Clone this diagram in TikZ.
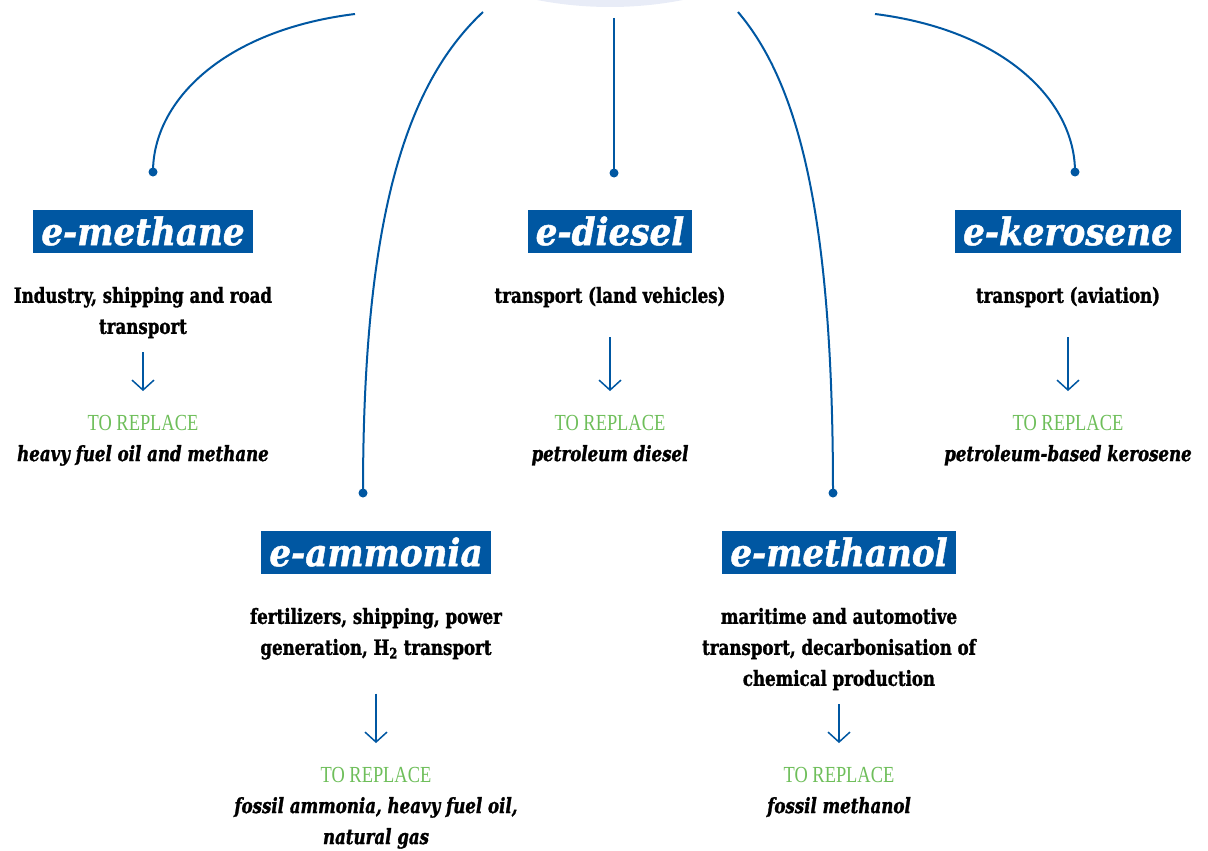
\documentclass[tikz,border=0pt]{standalone}
\usepackage{fontspec}
\usepackage{xcolor}
\usepackage{tikz}
\usetikzlibrary{arrows.meta,positioning}
\setmainfont{DejaVu Serif}
\newfontfamily\titlefont[BoldItalicFeatures={FakeBold=1.2}]{DejaVu Serif Condensed}
\newfontfamily\bodyfont[FakeStretch=0.88, BoldFeatures={FakeBold=1.3}, BoldItalicFeatures={FakeBold=1.3}]{DejaVu Serif Condensed}
\newfontfamily\replfont[FakeStretch=0.8]{Liberation Serif}
\definecolor{mainblue}{RGB}{0,87,162}
\definecolor{repgreen}{RGB}{110,190,90}
\definecolor{hubfill}{RGB}{232,236,247}

\begin{document}
\begin{tikzpicture}[
    x=1pt, y=-1pt,
    node distance=32pt,
    title/.style={fill=mainblue, text=white, font=\titlefont\bfseries\itshape\fontsize{38}{42}\selectfont, inner xsep=8pt, inner ysep=0pt, minimum height=43pt},
    usage/.style={font=\bodyfont\bfseries\fontsize{21}{31}\selectfont, align=center, inner sep=2pt},
    toreplace/.style={font=\replfont\fontsize{23}{28}\selectfont, text=repgreen, inner sep=2pt},
    fossil/.style={font=\bodyfont\bfseries\itshape\fontsize{21}{31}\selectfont, align=center, inner sep=2pt},
    pin/.style={circle, fill=mainblue, inner sep=0pt, minimum size=9pt},
    link/.style={draw=mainblue, line width=2pt},
    flow/.style={-{Straight Barb[length=10pt,width=22pt]}, draw=mainblue, line width=1.5pt, shorten >=22pt}
]
\useasboundingbox (0,0) rectangle (1208,851);
\begin{scope}
  \clip (0,0) rectangle (1208,851);
  \fill[hubfill] (610,-373) circle (380);
\end{scope}
\coordinate (hubA) at (355,14);
\coordinate (hubB) at (483,12);
\coordinate (hubC) at (614,18);
\coordinate (hubD) at (738,12);
\coordinate (hubE) at (875,14);

% top row
\node[title] (meth) at (143,231) {e-methane};
\node[usage, below=of meth] (methuse) {Industry, shipping and road\\transport};
\node[toreplace] (methrep) at (143,423) {TO REPLACE};
\node[fossil, below=10pt of methrep] (methfos) {heavy fuel oil and methane};
\node[pin] (methpin) at (153,172) {};

\node[title] (dies) at (610,231) {e-diesel};
\node[usage, below=of dies] (diesuse) {transport (land vehicles)};
\node[toreplace] (diesrep) at (610,423) {TO REPLACE};
\node[fossil, below=10pt of diesrep] (diesfos) {petroleum diesel};
\node[pin] (diespin) at (614,173) {};

\node[title] (kero) at (1068,231) {e-kerosene};
\node[usage, below=of kero] (kerouse) {transport (aviation)};
\node[toreplace] (kerorep) at (1068,423) {TO REPLACE};
\node[fossil, below=10pt of kerorep] (kerofos) {petroleum-based kerosene};
\node[pin] (keropin) at (1075,172) {};

% bottom row
\node[title] (ammo) at (376,552) {e-ammonia};
\node[usage, below=of ammo] (ammouse) {fertilizers, shipping, power\\generation, H\textsubscript{2} transport};
\node[toreplace] (ammorep) at (376,775) {TO REPLACE};
\node[fossil, below=10pt of ammorep] (ammofos) {fossil ammonia, heavy fuel oil,\\natural gas};
\node[pin] (ammopin) at (363,493) {};

\node[title] (mol) at (839,552) {e-methanol};
\node[usage, below=of mol] (moluse) {maritime and automotive\\transport, decarbonisation of\\chemical production};
\node[toreplace] (molrep) at (839,775) {TO REPLACE};
\node[fossil, below=10pt of molrep] (molfos) {fossil methanol};
\node[pin] (molpin) at (833,493) {};

% connectors from the hub
\draw[link] (hubA) .. controls (225,30) and (153,100) .. (methpin.center);
\draw[link] (hubB) .. controls (405,85) and (363,220) .. (ammopin.center);
\draw[link] (hubC) -- (diespin.center);
\draw[link] (hubD) .. controls (800,85) and (833,220) .. (molpin.center);
\draw[link] (hubE) .. controls (1003,30) and (1075,100) .. (keropin.center);

\draw[flow, shorten <=12pt] (methuse) -- (methrep);
\draw[flow, shorten <=28pt] (diesuse) -- (diesrep);
\draw[flow, shorten <=28pt] (kerouse) -- (kerorep);
\draw[flow, shorten <=32pt] (ammouse) -- (ammorep);
\draw[flow, shorten <=12pt] (moluse) -- (molrep);
\end{tikzpicture}
\end{document}
